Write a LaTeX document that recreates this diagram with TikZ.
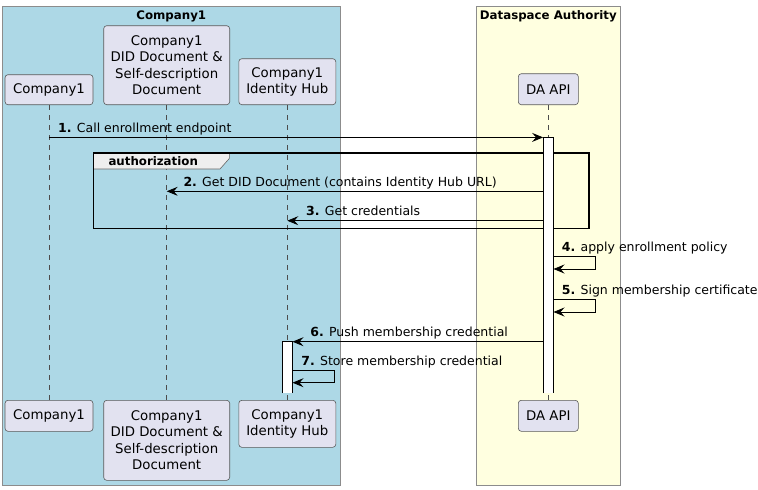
\documentclass[tikz,border=0pt]{standalone}
\usepackage{fontspec}
\setmainfont{DejaVu Sans}
\usepackage{xcolor}
\usepackage{tikz}
\usetikzlibrary{arrows.meta, positioning, calc}
\definecolor{partfill}{HTML}{E2E2F0}
\definecolor{compblue}{HTML}{ADD8E6}
\definecolor{authyellow}{HTML}{FFFFE0}
\definecolor{tabgray}{HTML}{EEEEEE}

\tikzset{
  part/.style={draw=black!65, fill=partfill, rounded corners=3pt, line width=0.6pt,
    align=center, inner sep=0pt, font=\fontsize{13.3}{16.5}\selectfont},
  lifeline/.style={draw=black!70, line width=0.5pt, dash pattern=on 5pt off 5pt},
  actbar/.style={fill=white, minimum width=10pt, inner sep=0pt},
  actedge/.style={draw=black, line width=0.8pt},
  msg/.style={-{Stealth[length=11pt, width=9pt, inset=4pt]}, line width=0.8pt},
  msglabel/.style={anchor=base west, inner sep=0pt, font=\fontsize{12.5}{15}\selectfont},
  grouptitle/.style={anchor=base, inner sep=0pt, font=\bfseries\fontsize{11.8}{14}\selectfont},
}

\begin{document}
\begin{tikzpicture}[x=1pt, y=-1pt]
    \useasboundingbox (0,0) rectangle (758,490);

    % BOXES: the two parties
    \draw[fill=compblue, draw=black!45, line width=0.8pt] (2,6) rectangle (340.5,485.5);
    \node[grouptitle] (comptitle) at (171.3,19) {Company1};
    \draw[fill=authyellow, draw=black!45, line width=0.8pt] (476.5,6) rectangle (620,485.5);
    \node[grouptitle] (authtitle) at (548.3,19) {Dataspace Authority};

    % Participants (top)
    \node[part, minimum width=88pt, minimum height=30pt, anchor=south] (c1top) at (49,105) {Company1};
    \node[part, minimum width=126pt, minimum height=79pt, anchor=south] (didtop) at (166.7,105)
        {Company1\\DID Document \&\\Self-description\\Document};
    \node[part, minimum width=97pt, minimum height=46pt, anchor=south] (hubtop) at (287.3,105)
        {Company1\\Identity Hub};
    \node[part, minimum width=60pt, minimum height=31pt, anchor=south] (datop) at (548.3,105) {DA API};

    % Participants (bottom)
    \node[part, minimum width=88pt, minimum height=31pt, anchor=north] (c1bot) at (49,400) {Company1};
    \node[part, minimum width=126pt, minimum height=80pt, anchor=north] (didbot) at (166.7,400)
        {Company1\\DID Document \&\\Self-description\\Document};
    \node[part, minimum width=97pt, minimum height=47pt, anchor=north] (hubbot) at (287.3,400)
        {Company1\\Identity Hub};
    \node[part, minimum width=60pt, minimum height=31pt, anchor=north] (dabot) at (548.3,400) {DA API};

    % Lifelines
    \draw[lifeline] (c1top) -- (c1bot);
    \draw[lifeline] (didtop) -- (didbot);
    \draw[lifeline] (hubtop) -- (hubbot);
    \draw[lifeline] (datop) -- (dabot);

    % authorization frame
    \draw[fill=tabgray, draw=black!60, line width=0.6pt]
        (93.3,152.7) -- (229.3,152.7) -- (229.3,158.5) -- (220,169) -- (93.3,169) -- cycle;
    \node[anchor=base west, inner sep=0pt, font=\bfseries\fontsize{11.8}{14}\selectfont]
        (authlabel) at (108.3,165) {authorization};
    \draw[line width=1.6pt] (93.3,152.7) rectangle (588.7,228.3);

    % Activations (open at the bottom)
    \node[actbar, minimum height=255.3pt, anchor=north] (daact) at (548.3,137.4) {};
    \draw[actedge] (daact.south west) |- (daact.north east) -- (daact.south east);
    \node[actbar, minimum height=51pt, anchor=north] (hubact) at (287.3,341.7) {};
    \draw[actedge] (hubact.south west) |- (hubact.north east) -- (hubact.south east);

    % Message rows
    \coordinate (m2) at (0,191.3);
    \coordinate (m3) at (0,220.7);
    \coordinate (m4) at (0,256.3);
    \coordinate (m5) at (0,299.3);
    \coordinate (m7) at (0,370.7);

    % Messages
    \draw[msg] (c1top.south |- daact.north) -- (daact.north west);
    \node[msglabel] (l1) at ($(c1top.south |- daact.north)+(9,-5)$) {\textbf{1.} Call enrollment endpoint};

    \draw[msg] (daact.west |- m2) -- (didtop.south |- m2);
    \node[msglabel] (l2) at ($(didtop.south |- m2)+(16.6,-5)$) {\textbf{2.} Get DID Document (contains Identity Hub URL)};

    \draw[msg] (daact.west |- m3) -- (hubtop.south |- m3);
    \node[msglabel] (l3) at ($(hubtop.south |- m3)+(18.7,-5)$) {\textbf{3.} Get credentials};

    \draw[msg] (daact.east |- m4) -- ++(42.2,0) -- ++(0,12.7) -- ++(-42.2,0);
    \node[msglabel] (l4) at ($(daact.east |- m4)+(8.2,-5)$) {\textbf{4.} apply enrollment policy};

    \draw[msg] (daact.east |- m5) -- ++(42.2,0) -- ++(0,12.7) -- ++(-42.2,0);
    \node[msglabel] (l5) at ($(daact.east |- m5)+(8.2,-5)$) {\textbf{5.} Sign membership certificate};

    \draw[msg] (daact.west |- hubact.north) -- (hubact.north east);
    \node[msglabel] (l6) at ($(hubact.north east)+(17.7,-5)$) {\textbf{6.} Push membership credential};

    \draw[msg] (hubact.east |- m7) -- ++(42,0) -- ++(0,12) -- ++(-42,0);
    \node[msglabel] (l7) at ($(hubact.east |- m7)+(8.7,-5)$) {\textbf{7.} Store membership credential};
\end{tikzpicture}
\end{document}
